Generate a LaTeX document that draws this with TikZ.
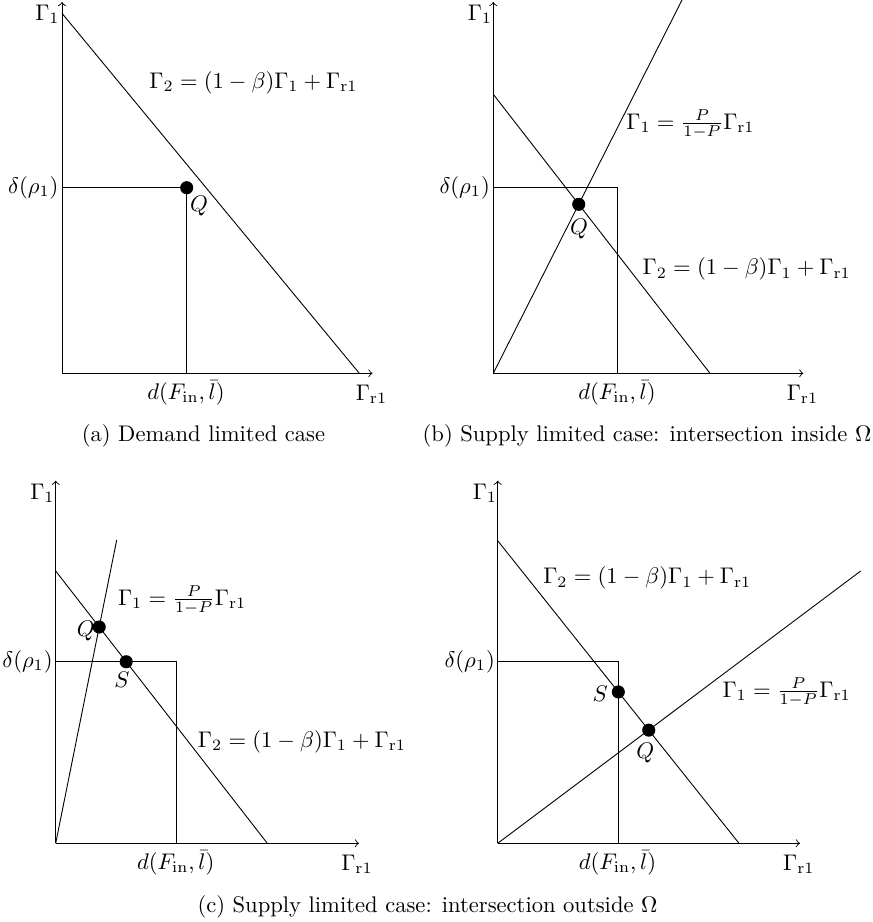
\documentclass[tikz,border=0pt]{standalone}
\begin{document}
\begin{tikzpicture}[x=0.4425pt,y=-0.4425pt,
  lbl/.style={inner sep=0pt},
  dot/.style={circle,fill=black,inner sep=0pt,minimum size=5.8pt},
  axis/.style={->}]
\useasboundingbox (0,0) rectangle (873,922);

% ---------- (a) ----------
\coordinate (aO) at (62,373.3);
\coordinate (aY) at (62,2);
\coordinate (aX) at (372.5,373.3);
\draw[axis] (aO) -- (aY);
\draw[axis] (aO) -- (aX);
\coordinate (aD1) at (62,13.3);
\coordinate (aD2) at (359.3,373.3);
\draw (aD1) -- (aD2);
\coordinate (aL) at (62,187.7);
\coordinate (aB) at (186.7,373.3);
\node[dot] (aQ) at (186.7,187.7) {};
\draw (aL) -- (aQ.center) -- (aB);
\node[lbl] (aG1) at (47.5,14) {$\Gamma_1$};
\node[lbl] (adelta) at (33.3,187.7) {$\delta(\rho_1)$};
\node[lbl] (ad) at (186,393) {$d(F_{\mathrm{in}},\bar{l})$};
\node[lbl] (aGr) at (371.5,394) {$\Gamma_{\mathrm{r}1}$};
\node[lbl] (aF2) at (253.5,82.5) {$\Gamma_2=(1-\beta)\Gamma_1+\Gamma_{\mathrm{r}1}$};
\node[lbl] (aQl) at (199,206) {$Q$};
\node[lbl] (acap) at (203.5,436) {(a) Demand limited case};

% ---------- (b) ----------
\coordinate (bO) at (493.3,373.3);
\coordinate (bY) at (493.3,2);
\coordinate (bX) at (803.3,373.3);
\draw[axis] (bO) -- (bY);
\draw[axis] (bO) -- (bX);
\coordinate (bD1) at (493.3,94.3);
\coordinate (bD2) at (710,373.3);
\coordinate (bP) at (682,0);
\draw (bD1) -- (bD2);
\draw (bO) -- (bP);
\coordinate (bL) at (493.3,187.7);
\coordinate (bR) at (617.3,187.7);
\coordinate (bB) at (617.3,373.3);
\draw (bL) -- (bR) -- (bB);
\node[dot] (bQ) at (intersection of bD1--bD2 and bO--bP) {};
\node[lbl] (bG1) at (480,14) {$\Gamma_1$};
\node[lbl] (bdelta) at (464.7,187.7) {$\delta(\rho_1)$};
\node[lbl] (bd) at (617,393) {$d(F_{\mathrm{in}},\bar{l})$};
\node[lbl] (bGr) at (802.5,394) {$\Gamma_{\mathrm{r}1}$};
\node[lbl] (bF1) at (690.5,124) {$\Gamma_1=\frac{P}{1-P}\Gamma_{\mathrm{r}1}$};
\node[lbl] (bF2) at (746.7,269) {$\Gamma_2=(1-\beta)\Gamma_1+\Gamma_{\mathrm{r}1}$};
\node[lbl] (bQl) at (579,229) {$Q$};
\node[lbl] (bcap) at (647,436) {(b) Supply limited case: intersection inside $\Omega$};

% ---------- (c) left ----------
\coordinate (cO) at (55.7,843.3);
\coordinate (cY) at (55.7,480.7);
\coordinate (cX) at (359,843.3);
\draw[axis] (cO) -- (cY);
\draw[axis] (cO) -- (cX);
\coordinate (cD1) at (55.7,571);
\coordinate (cD2) at (267.3,843.3);
\coordinate (cP) at (116.7,540);
\draw (cD1) -- (cD2);
\draw (cO) -- (cP);
\coordinate (cL) at (55.7,661.7);
\coordinate (cR) at (176.7,661.7);
\coordinate (cB) at (176.7,843.3);
\draw (cL) -- (cR) -- (cB);
\node[dot] (cQ) at (intersection of cD1--cD2 and cO--cP) {};
\node[dot] (cS) at (intersection of cD1--cD2 and cL--cR) {};
\node[lbl] (cG1) at (42.5,493) {$\Gamma_1$};
\node[lbl] (cdelta) at (27.5,661.7) {$\delta(\rho_1)$};
\node[lbl] (cd) at (175.8,863) {$d(F_{\mathrm{in}},\bar{l})$};
\node[lbl] (cGr) at (357,864.5) {$\Gamma_{\mathrm{r}1}$};
\node[lbl] (cF1) at (182.2,600) {$\Gamma_1=\frac{P}{1-P}\Gamma_{\mathrm{r}1}$};
\node[lbl] (cF2) at (302,741.5) {$\Gamma_2=(1-\beta)\Gamma_1+\Gamma_{\mathrm{r}1}$};
\node[lbl] (cQl) at (85.8,631) {$Q$};
\node[lbl] (cSl) at (122,680) {$S$};

% ---------- (c) right ----------
\coordinate (dO) at (497.7,843.3);
\coordinate (dY) at (497.7,480.7);
\coordinate (dX) at (800,843.3);
\draw[axis] (dO) -- (dY);
\draw[axis] (dO) -- (dX);
\coordinate (dD1) at (497.7,540.7);
\coordinate (dD2) at (739,843.3);
\coordinate (dP) at (860.7,571);
\draw (dD1) -- (dD2);
\draw (dO) -- (dP);
\coordinate (dL) at (497.7,661.7);
\coordinate (dR) at (618.3,661.7);
\coordinate (dB) at (618.3,843.3);
\draw (dL) -- (dR) -- (dB);
\node[dot] (dS) at (intersection of dD1--dD2 and dR--dB) {};
\node[dot] (dQ) at (intersection of dD1--dD2 and dO--dP) {};
\node[lbl] (dG1) at (485,493) {$\Gamma_1$};
\node[lbl] (ddelta) at (469.7,661.7) {$\delta(\rho_1)$};
\node[lbl] (dd) at (617.5,863) {$d(F_{\mathrm{in}},\bar{l})$};
\node[lbl] (dGr) at (798.8,864.5) {$\Gamma_{\mathrm{r}1}$};
\node[lbl] (dF2) at (647.3,578) {$\Gamma_2=(1-\beta)\Gamma_1+\Gamma_{\mathrm{r}1}$};
\node[lbl] (dF1) at (786.7,692) {$\Gamma_1=\frac{P}{1-P}\Gamma_{\mathrm{r}1}$};
\node[lbl] (dSl) at (600.3,693.5) {$S$};
\node[lbl] (dQl) at (645.3,753) {$Q$};

\node[lbl] (ccap) at (427.5,906.5) {(c) Supply limited case: intersection outside $\Omega$};
\end{tikzpicture}
\end{document}
